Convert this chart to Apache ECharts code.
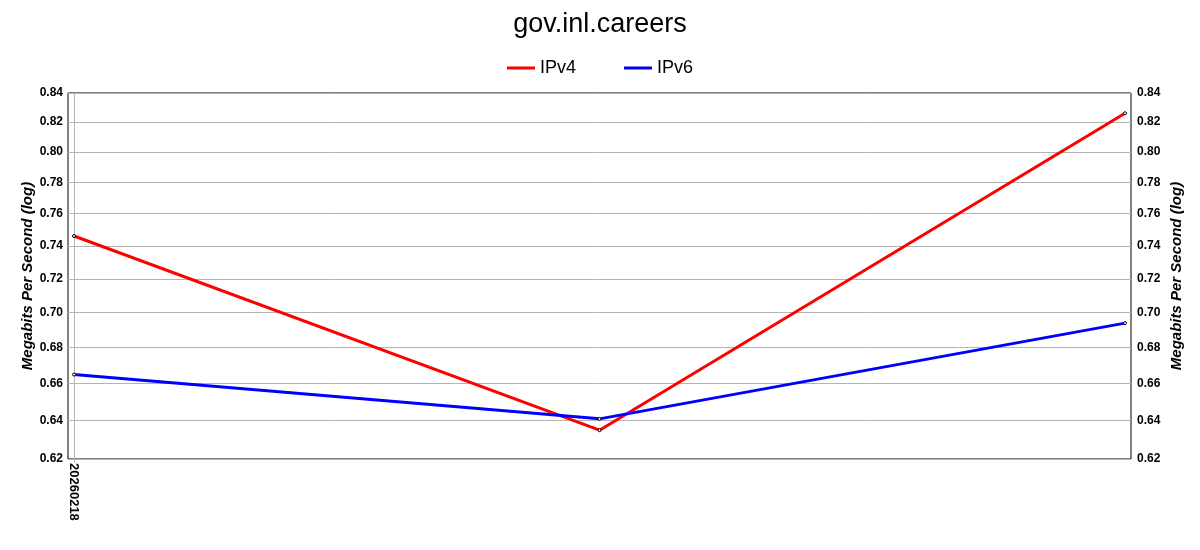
<!DOCTYPE html>
<html><head><meta charset="utf-8">
<script src="https://cdn.jsdelivr.net/npm/echarts@6/dist/echarts.min.js"></script>
<style>html,body{margin:0;padding:0;background:#fff}#c{width:1200px;height:550px}</style>
</head><body><div id="c"></div>
<script>
const titleText = 'gov.inl.careers';
const categories = ['20260218', '', ''];
const ipv4 = [0.746, 0.635, 0.826];
const ipv6 = [0.665, 0.641, 0.694];
const yTicks = [0.62, 0.64, 0.66, 0.68, 0.70, 0.72, 0.74, 0.76, 0.78, 0.80, 0.82, 0.84];
const yName = 'Megabits Per Second (log)';

const font = 'Liberation Sans, Arial, sans-serif';
const chart = echarts.init(document.getElementById('c'), null, {renderer: 'canvas'});
const yAxisCommon = {
  type: 'log', logBase: 10, min: 0.62, max: 0.84, gridIndex: 1,
  name: yName, nameLocation: 'middle', nameMoveOverlap: false,
  nameTextStyle: {fontFamily: font, fontSize: 15, fontWeight: 'bold', fontStyle: 'italic', color: '#000'},
  axisLine: {show: false},
  axisTick: {show: false, customValues: yTicks},
  axisLabel: {customValues: yTicks, formatter: v => v.toFixed(2), fontFamily: font, fontSize: 12, fontWeight: 'bold', color: '#000'},
  splitLine: {show: false}
};
const legendIcon = 'path://M0,6 L28,6 L28,9 L0,9 Z';
chart.setOption({
  animation: false,
  title: {text: titleText, left: 'center', top: 6, textStyle: {fontFamily: font, fontSize: 27, fontWeight: 'normal', color: '#000'}},
  legend: {top: 54, left: 'center', itemWidth: 28, itemHeight: 14, itemGap: 48,
    textStyle: {fontFamily: font, fontSize: 18, color: '#000'},
    data: [
      {name: 'IPv4', icon: legendIcon, itemStyle: {color: '#ff0000', borderWidth: 0}},
      {name: 'IPv6', icon: legendIcon, itemStyle: {color: '#0000ff', borderWidth: 0}}
    ]},
  grid: [
    {left: 68, right: 69, top: 93, bottom: 91, show: true, borderColor: '#000', borderWidth: 1, backgroundColor: 'transparent'},
    {left: 74, right: 75, top: 93, bottom: 91, show: false}
  ],
  xAxis: [
    {type: 'value', gridIndex: 0, show: false, min: 0, max: 1},
    {type: 'category', gridIndex: 1, data: categories, boundaryGap: false,
      axisLine: {show: false},
      axisTick: {show: true, length: 4, interval: i => i === 0, lineStyle: {color: '#b4b4b4'}},
      axisLabel: {rotate: -90, interval: i => i === 0, margin: 4, fontFamily: font, fontSize: 13, fontWeight: 'bold', color: '#000'},
      splitLine: {show: true, interval: i => i === 0, lineStyle: {color: '#b4b4b4'}}}
  ],
  yAxis: [
    {type: 'log', logBase: 10, gridIndex: 0, min: 0.62, max: 0.84,
      axisLine: {show: false}, axisTick: {show: false, customValues: yTicks},
      axisLabel: {show: false, customValues: yTicks},
      splitLine: {show: true, lineStyle: {color: '#b4b4b4', width: 1}}},
    Object.assign({}, yAxisCommon, {position: 'left', nameGap: 39, axisLabel: Object.assign({}, yAxisCommon.axisLabel, {margin: 11})}),
    Object.assign({}, yAxisCommon, {position: 'right', nameGap: 44, axisLabel: Object.assign({}, yAxisCommon.axisLabel, {margin: 12})})
  ],
  series: [
    {name: 'IPv4', type: 'line', xAxisIndex: 1, yAxisIndex: 1, data: ipv4, color: '#ff0000',
      lineStyle: {width: 3, color: '#ff0000'}, symbol: 'circle', symbolSize: 3,
      itemStyle: {color: '#fff', borderColor: '#000', borderWidth: 1}},
    {name: 'IPv6', type: 'line', xAxisIndex: 1, yAxisIndex: 1, data: ipv6, color: '#0000ff',
      lineStyle: {width: 3, color: '#0000ff'}, symbol: 'circle', symbolSize: 3,
      itemStyle: {color: '#fff', borderColor: '#000', borderWidth: 1}}
  ]
});
</script></body></html>
